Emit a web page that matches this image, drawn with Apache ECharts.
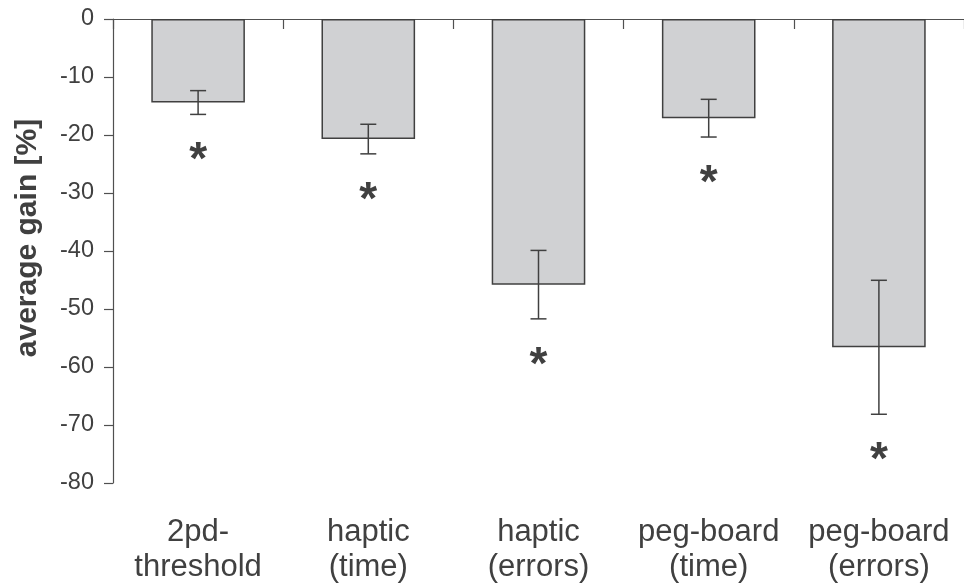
<!DOCTYPE html>
<html>
<head>
<meta charset="utf-8">
<script src="https://cdn.jsdelivr.net/npm/echarts@6/dist/echarts.min.js"></script>
<style>html,body{margin:0;padding:0;background:#fff;}#c{width:964px;height:586px;}</style>
</head>
<body>
<div id="c"></div>
<script>
var categories = ['2pd-\nthreshold', 'haptic\n(time)', 'haptic\n(errors)', 'peg-board\n(time)', 'peg-board\n(errors)'];
var means = [-14.4, -20.7, -45.8, -17.1, -56.6];
var errors = [2.05, 2.55, 5.9, 3.25, 11.55];
var significance = ['*', '*', '*', '*', '*'];
var yTicks = [0, -10, -20, -30, -40, -50, -60, -70, -80];

var FONT = 'Liberation Sans, Arial, sans-serif';
var dark = '#404040';

var errData = means.map(function (m, i) { return [i, m - errors[i], m + errors[i], significance[i]]; });

var chart = echarts.init(document.getElementById('c'), null, { renderer: 'canvas' });
chart.setOption({
  animation: false,
  backgroundColor: '#ffffff',
  grid: { left: 113, right: -3, top: 19, bottom: 103, containLabel: false },
  xAxis: [{
    type: 'category', data: categories, position: 'top',
    axisLine: { show: true, lineStyle: { color: '#505050', width: 1.2 } },
    axisTick: { show: true, inside: true, length: 10, alignWithLabel: false, lineStyle: { color: '#505050', width: 1.2 } },
    axisLabel: { show: false }, splitLine: { show: false }
  }, {
    type: 'category', data: categories, position: 'bottom',
    axisLine: { show: false }, axisTick: { show: false },
    axisLabel: { show: true, interval: 0, hideOverlap: false, color: dark, fontFamily: FONT, fontSize: 31, lineHeight: 35, margin: 32 },
    splitLine: { show: false }
  }],
  yAxis: {
    type: 'value', min: yTicks[yTicks.length - 1], max: yTicks[0], interval: 10,
    name: 'average gain [%]', nameLocation: 'middle', nameGap: 70, nameRotate: 90,
    nameTextStyle: { color: dark, fontFamily: FONT, fontSize: 30, fontWeight: 'bold', padding: [0, 0, 0, 26] },
    axisLine: { show: true, lineStyle: { color: '#505050', width: 1.2 } },
    axisTick: { show: true, inside: false, length: 9, lineStyle: { color: '#505050', width: 1.2 } },
    axisLabel: { color: dark, fontFamily: FONT, fontSize: 23.5, margin: 19 },
    splitLine: { show: false }
  },
  series: [{
    type: 'bar', xAxisIndex: 0, data: means, barWidth: '55%',
    itemStyle: { color: '#d0d1d3', borderColor: dark, borderWidth: 1.5 },
    z: 2
  }, {
    type: 'custom', xAxisIndex: 0, data: errData,
    encode: { x: 0, y: [1, 2] },
    z: 5,
    renderItem: function (params, api) {
      var lo = api.coord([api.value(0), api.value(1)]);
      var hi = api.coord([api.value(0), api.value(2)]);
      var x = lo[0], cap = 8;
      var st = { stroke: dark, lineWidth: 1.5 };
      var children = [
        { type: 'line', shape: { x1: x, y1: hi[1], x2: x, y2: lo[1] }, style: st },
        { type: 'line', shape: { x1: x - cap, y1: hi[1], x2: x + cap, y2: hi[1] }, style: st },
        { type: 'line', shape: { x1: x - cap, y1: lo[1], x2: x + cap, y2: lo[1] }, style: st }
      ];
      var sig = significance[params.dataIndex];
      if (sig) {
        children.push({ type: 'text', style: { text: sig, x: x, y: lo[1] + 47, fill: dark, font: 'bold 46px ' + FONT, textAlign: 'center', textVerticalAlign: 'middle' } });
      }
      return { type: 'group', children: children };
    }
  }]
});
</script>
</body>
</html>
